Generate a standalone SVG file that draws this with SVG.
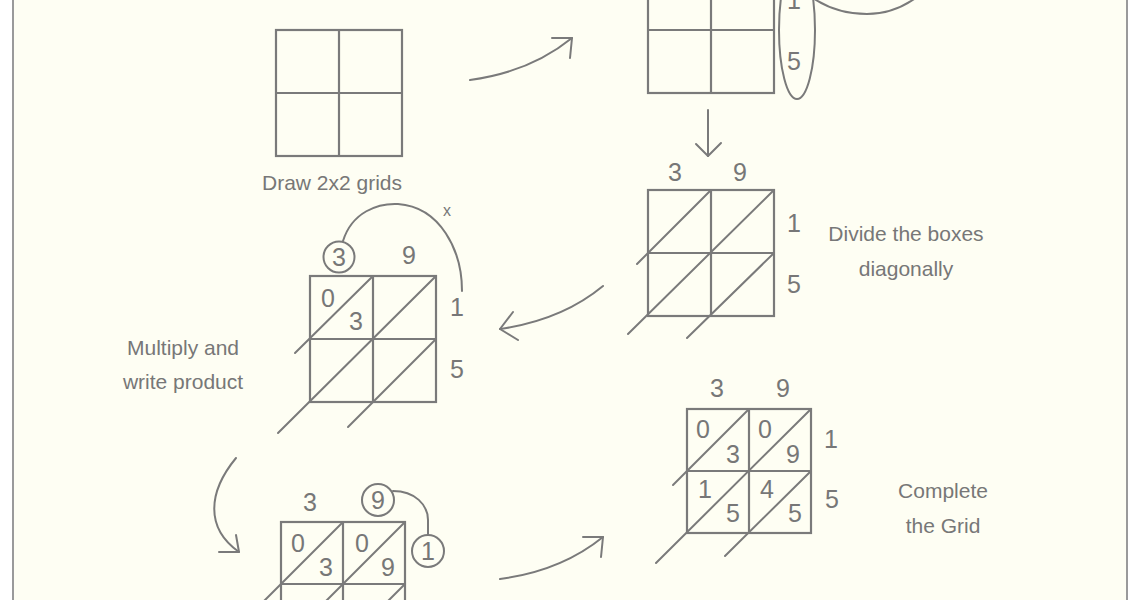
<svg xmlns="http://www.w3.org/2000/svg" width="1140" height="600" viewBox="0 0 1140 600">
<style>
.ln{fill:none;stroke:#7a7a7a;stroke-width:2;stroke-linecap:round;stroke-linejoin:round}
.gr{fill:none;stroke:#7a7a7a;stroke-width:2.2}
.d{font-family:"Liberation Sans",Arial,sans-serif;font-size:25px;fill:#777;text-anchor:middle}
.t{font-family:"Liberation Sans",Arial,sans-serif;font-size:21px;fill:#777;text-anchor:middle}
</style>
<rect x="0" y="0" width="1140" height="600" fill="#ffffff"/>
<rect x="13" y="-10" width="1114" height="620" fill="#fefef3" stroke="#9a9a9a" stroke-width="2"/>

<g id="step1">
<rect class="gr" x="276" y="30" width="126" height="126"/>
<line class="gr" x1="339" y1="30" x2="339" y2="156"/>
<line class="gr" x1="276" y1="93" x2="402" y2="93"/>
<text class="t" x="332" y="190">Draw 2x2 grids</text>
</g>

<g id="step2">
<rect class="gr" x="648" y="-33" width="126" height="126"/>
<line class="gr" x1="711" y1="-33" x2="711" y2="93"/>
<line class="gr" x1="648" y1="30" x2="774" y2="30"/>
<text class="d" x="794" y="9">1</text>
<text class="d" x="794" y="70">5</text>
<ellipse class="ln" cx="797" cy="30" rx="18" ry="69"/>
<path class="ln" d="M810,-4 C828,9 848,14 867,14 C886,14 902,8 917,-3"/>
</g>

<g id="step3">
<text class="d" x="675" y="181">3</text>
<text class="d" x="740" y="181">9</text>
<rect class="gr" x="648" y="190" width="126" height="126"/>
<line class="gr" x1="711" y1="190" x2="711" y2="316"/>
<line class="gr" x1="648" y1="253" x2="774" y2="253"/>
<line class="ln" x1="711" y1="190" x2="637" y2="264"/>
<line class="ln" x1="774" y1="190" x2="628" y2="334"/>
<line class="ln" x1="774" y1="253" x2="687" y2="338"/>
<text class="d" x="794" y="232">1</text>
<text class="d" x="794" y="293">5</text>
<text class="t" x="906" y="241">Divide the boxes</text>
<text class="t" x="906" y="276">diagonally</text>
</g>

<g id="step4">
<circle class="ln" cx="339" cy="257" r="15.5"/>
<text class="d" x="339" y="266">3</text>
<text class="d" x="409" y="264">9</text>
<path class="ln" d="M343,241 C352,212 378,203 398,204 C440,207 462,250 462,291"/>
<text class="t" x="447" y="216" style="font-size:16px">x</text>
<rect class="gr" x="310" y="276" width="126" height="126"/>
<line class="gr" x1="373" y1="276" x2="373" y2="402"/>
<line class="gr" x1="310" y1="339" x2="436" y2="339"/>
<line class="ln" x1="373" y1="276" x2="295" y2="353"/>
<line class="ln" x1="436" y1="276" x2="278" y2="433"/>
<line class="ln" x1="436" y1="339" x2="348" y2="427"/>
<text class="d" x="328" y="307">0</text>
<text class="d" x="356" y="330">3</text>
<text class="d" x="457" y="316">1</text>
<text class="d" x="457" y="378">5</text>
<text class="t" x="183" y="355">Multiply and</text>
<text class="t" x="183" y="389">write product</text>
</g>

<g id="step5">
<text class="d" x="310" y="511">3</text>
<circle class="ln" cx="378" cy="500" r="16"/>
<text class="d" x="378" y="509">9</text>
<circle class="ln" cx="428" cy="551" r="16"/>
<text class="d" x="428" y="560">1</text>
<path class="ln" d="M393,491 C415,491 428,505 428,520 L428,535"/>
<rect class="gr" x="281" y="522" width="124" height="124"/>
<line class="gr" x1="343" y1="522" x2="343" y2="646"/>
<line class="gr" x1="281" y1="584" x2="405" y2="584"/>
<line class="ln" x1="343" y1="522" x2="262" y2="603"/>
<line class="ln" x1="405" y1="522" x2="320" y2="607"/>
<line class="ln" x1="405" y1="584" x2="382" y2="607"/>
<text class="d" x="298" y="552">0</text>
<text class="d" x="326" y="576">3</text>
<text class="d" x="362" y="552">0</text>
<text class="d" x="388" y="576">9</text>
</g>

<g id="step6">
<text class="d" x="717" y="397">3</text>
<text class="d" x="783" y="397">9</text>
<rect class="gr" x="687" y="409" width="124" height="124"/>
<line class="gr" x1="749" y1="409" x2="749" y2="533"/>
<line class="gr" x1="687" y1="471" x2="811" y2="471"/>
<line class="ln" x1="749" y1="409" x2="673" y2="485"/>
<line class="ln" x1="811" y1="409" x2="656" y2="563"/>
<line class="ln" x1="811" y1="471" x2="725" y2="556"/>
<text class="d" x="703" y="438">0</text>
<text class="d" x="733" y="463">3</text>
<text class="d" x="765" y="438">0</text>
<text class="d" x="793" y="463">9</text>
<text class="d" x="705" y="498">1</text>
<text class="d" x="733" y="522">5</text>
<text class="d" x="767" y="498">4</text>
<text class="d" x="795" y="522">5</text>
<text class="d" x="831" y="448">1</text>
<text class="d" x="832" y="508">5</text>
<text class="t" x="943" y="498">Complete</text>
<text class="t" x="943" y="533">the Grid</text>
</g>

<g id="connectors">
<path class="ln" d="M470,80 Q530,72 572,38"/>
<path class="ln" d="M552,38 L572,38 L570,58"/>
<path class="ln" d="M708,110 L708,156"/>
<path class="ln" d="M696,144 L708,156 L721,143"/>
<path class="ln" d="M603,286 Q562,320 500,329"/>
<path class="ln" d="M513,312 L500,329 L518,340"/>
<path class="ln" d="M236,458 C208,492 205,528 239,552"/>
<path class="ln" d="M219,552 L239,552 L236,535"/>
<path class="ln" d="M500,579 Q561,571 603,537"/>
<path class="ln" d="M583,537 L603,537 L601,557"/>
</g>
</svg>
